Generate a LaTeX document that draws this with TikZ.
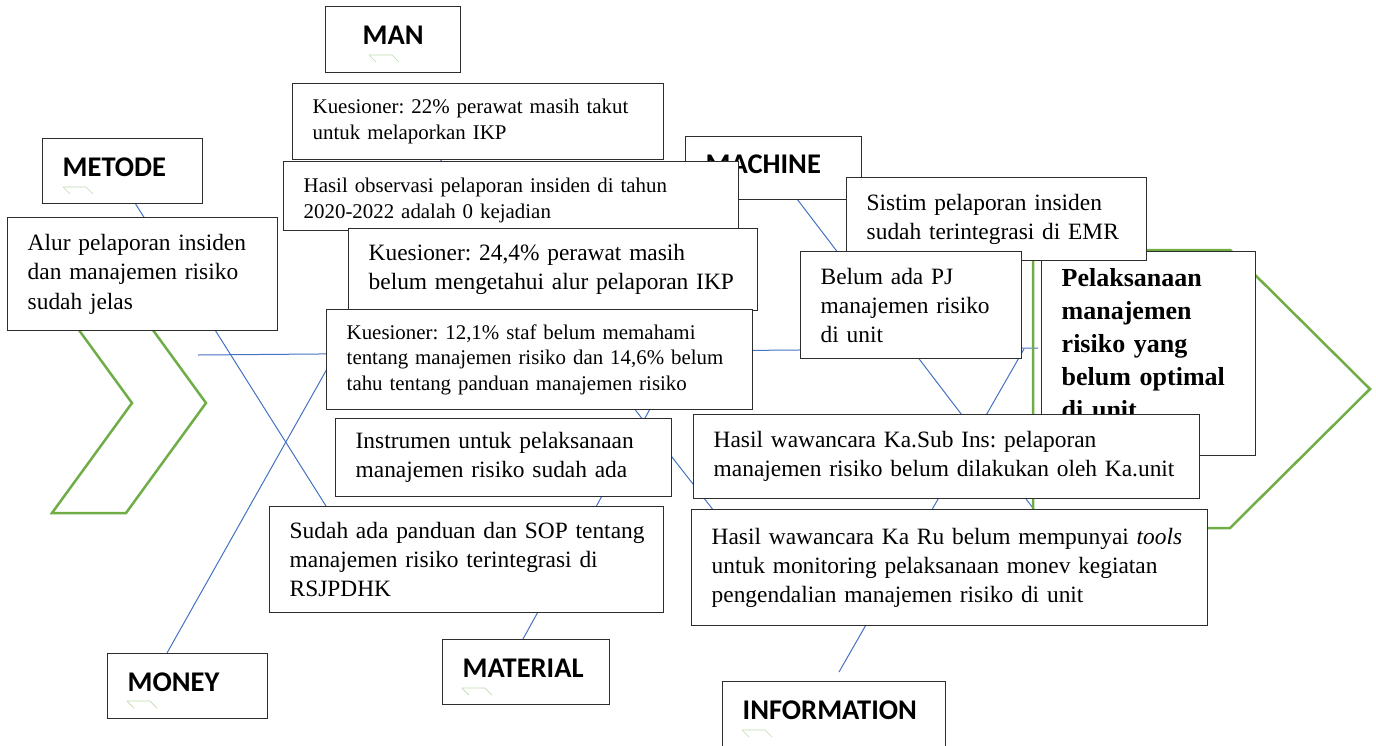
\documentclass[tikz,border=0pt]{standalone}
\usepackage{fontspec}
\setmainfont{Liberation Serif}
\newfontfamily\labfam{Carlito}
\definecolor{boxc}{RGB}{45,45,45}
\definecolor{bonec}{RGB}{68,114,196}
\definecolor{fishc}{RGB}{112,173,71}
\definecolor{markc}{RGB}{190,220,175}
\newcommand{\fa}{\fontsize{20.9}{25.8}\selectfont}
\newcommand{\fb}{\fontsize{23.4}{29.2}\selectfont}
\frenchspacing
\begin{document}
\begin{tikzpicture}[x=1pt,y=-1pt,
  tb/.style={draw=boxc, line width=1.4pt, fill=white, anchor=north west,
    inner xsep=0pt, inner ysep=0pt, align=left,
    execute at begin node={\frenchspacing\leftskip=20pt}},
  lb/.style={tb, font={\labfam\bfseries\fontsize{28.5}{34}\selectfont},
    text height=18.4pt, text depth=8pt},
  bone/.style={draw=bonec, line width=1pt},
  fish/.style={draw=fishc, line width=2.5pt, line join=miter},
  mk/.style={draw=markc, line width=0.7pt}]
\useasboundingbox (0,0) rectangle (1376,745);

% bone end points
\coordinate (sp1) at (198,355);
\coordinate (sp2) at (1038,348);
\coordinate (met1) at (135,203);
\coordinate (met2) at (326,506);
\coordinate (mon1) at (167,653);
\coordinate (mon2) at (336,353);
\coordinate (man1) at (394,100);
\coordinate (man2) at (714,511);
\coordinate (mat1) at (523,639);
\coordinate (mat2) at (682,351);
\coordinate (mac1) at (797,199);
\coordinate (mac2) at (1036,512);
\coordinate (inf1) at (839,672);
\coordinate (inf2) at (1024,349);

\draw[bone] (sp1) -- (sp2);
\draw[bone] (met1) -- (met2);
\draw[bone] (mon1) -- (mon2);
\draw[bone] (man1) -- (man2);
\draw[bone] (mat1) -- (mat2);
\draw[bone] (mac1) -- (mac2);
\draw[bone] (inf1) -- (inf2);

% green arrow shapes
\draw[fish] (52,293) -- (126,293) -- (206,403) -- (126,513) -- (52,513) -- (132,403) -- cycle;
\draw[fish] (1033,250) -- (1230,250) -- (1370,389) -- (1230,528) -- (1033,528) -- cycle;

% boxes
\node[lb, text width=135pt, minimum height=66pt, execute at begin node={\leftskip=37pt}] (man) at (325,6) {MAN};
\node[lb, text width=160pt, minimum height=65pt] (metode) at (42,138) {METODE};
\node[lb, text width=176pt, minimum height=63pt] (machine) at (685,136) {MACHINE};

\node[tb, font=\fa, text width=371pt, minimum height=76pt] (k22) at (292,83)
  {Kuesioner: 22\% perawat masih takut\\untuk melaporkan IKP};
\node[tb, font=\fa, text width=455pt, minimum height=69pt, text depth=22pt] (hobs) at (283,161)
  {Hasil observasi pelaporan insiden di tahun\\2020-2022 adalah 0 kejadian};
\node[tb, font=\fb, text width=409pt, minimum height=82pt] (k24) at (348,228)
  {Kuesioner: 24,4\% perawat masih\\belum mengetahui alur pelaporan IKP};
\node[tb, font=\fa, text width=426pt, minimum height=100pt] (k12) at (326,309)
  {Kuesioner: 12,1\% staf belum memahami\\tentang manajemen risiko dan 14,6\% belum\\tahu tentang panduan manajemen risiko};
\node[tb, font=\fb, text width=336pt, minimum height=78pt] (instr) at (335,418)
  {Instrumen untuk pelaksanaan\\manajemen risiko sudah ada};
\node[tb, font=\fb, text width=394pt, minimum height=106pt] (sudah) at (269,506)
  {Sudah ada panduan dan SOP tentang\\manajemen risiko terintegrasi di\\RSJPDHK};
\node[tb, font=\fb, text width=270pt, minimum height=113pt] (alur) at (7,217)
  {Alur pelaporan insiden\\dan manajemen risiko\\sudah jelas};

\node[lb, text width=160pt, minimum height=65pt] (money) at (107,653) {MONEY};
\node[lb, text width=167pt, minimum height=65pt] (material) at (442,639) {MATERIAL};

\node[tb, font={\bfseries\fontsize{26}{33}\selectfont}, text width=214pt, minimum height=204pt,
  text height=18pt, text depth=152pt] (head) at (1041,251)
  {Pelaksanaan\\manajemen\\risiko yang\\belum optimal\\di unit};
\node[tb, font=\fb, text width=300pt, minimum height=83pt] (sistim) at (846,177)
  {Sistim pelaporan insiden\\sudah terintegrasi di EMR};
\node[tb, font=\fb, text width=221pt, minimum height=107pt] (belum) at (800,251)
  {Belum ada PJ\\manajemen risiko\\di unit};
\node[tb, font=\fb, text width=506pt, minimum height=84pt] (kasub) at (693,414)
  {Hasil wawancara Ka.Sub Ins: pelaporan\\manajemen risiko belum dilakukan oleh Ka.unit};
\node[tb, font=\fb, text width=516pt, minimum height=116pt] (karu) at (691,509)
  {Hasil wawancara Ka Ru belum mempunyai \textit{tools}\\untuk monitoring pelaksanaan monev kegiatan\\pengendalian manajemen risiko di unit};
\node[lb, text width=223pt, minimum height=66pt] (info) at (722,681) {INFORMATION};

% small anchor marks under the category labels
\foreach \mx/\my in {369/55, 63/187, 127/701, 462/688, 742/730}{
  \draw[mk] (\mx,\my) -- ++(23,0) -- ++(7,7);
  \draw[mk] (\mx,\my) -- ++(7,7);
}
\end{tikzpicture}
\end{document}
